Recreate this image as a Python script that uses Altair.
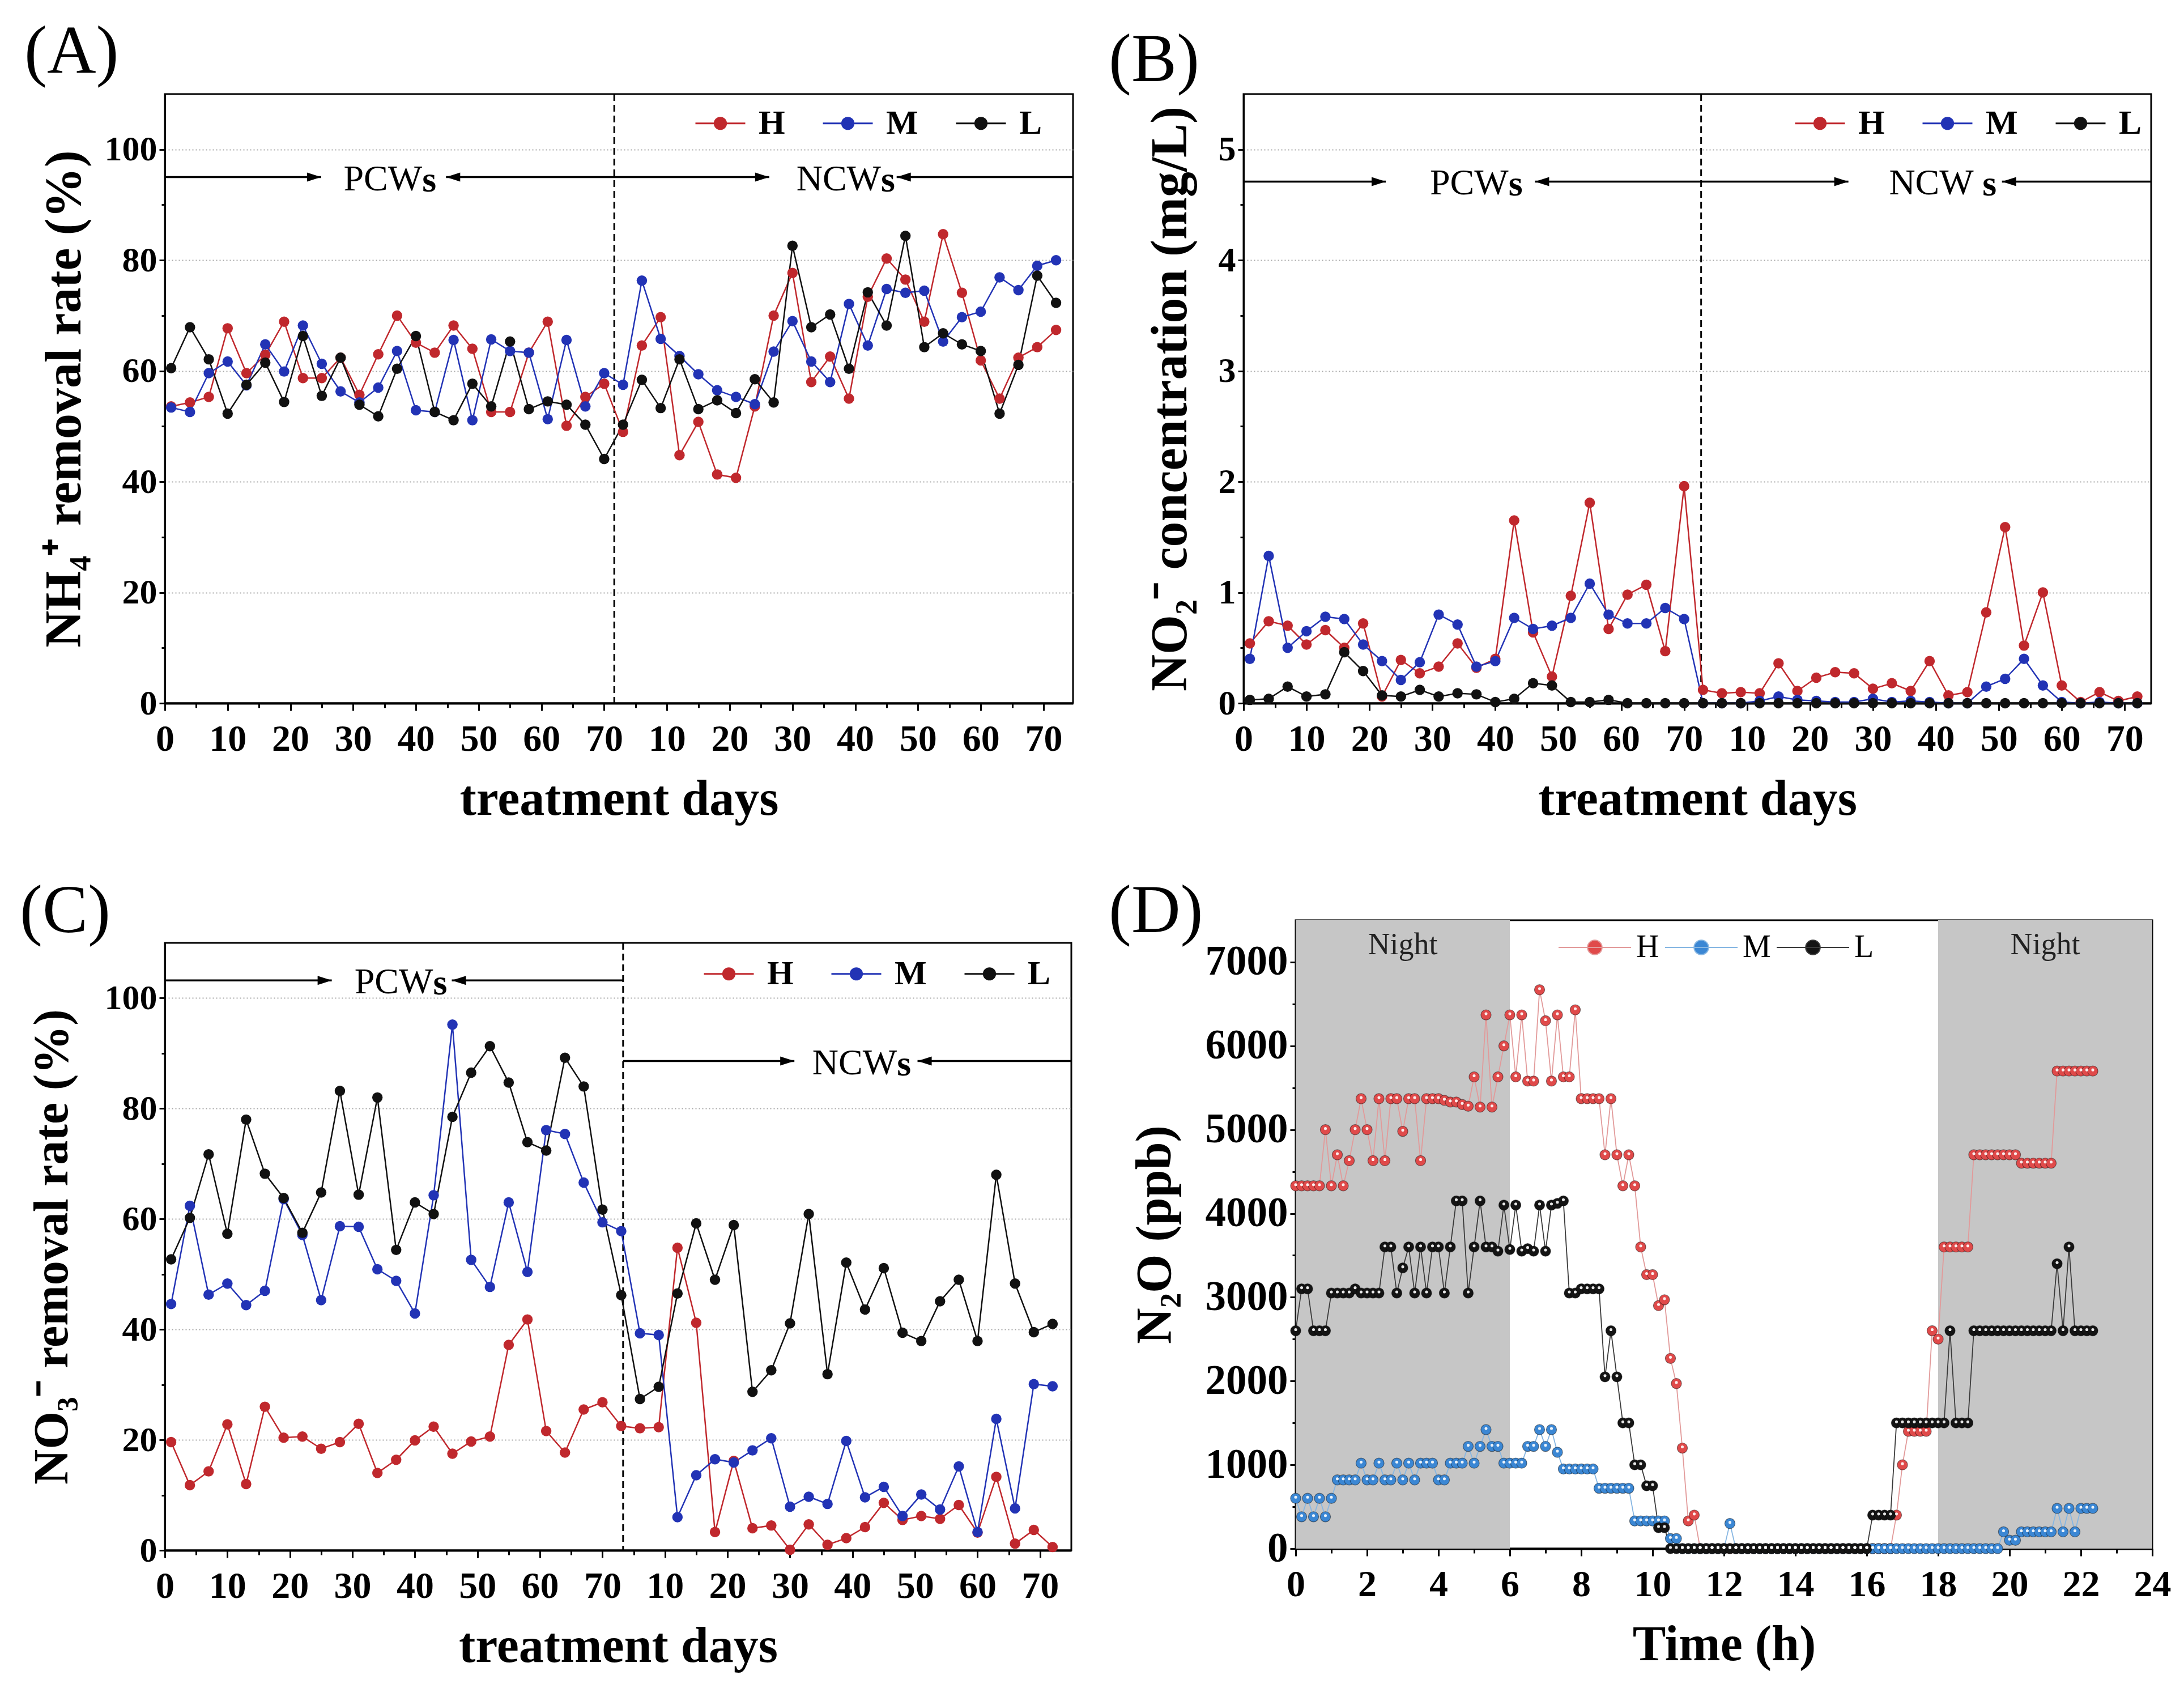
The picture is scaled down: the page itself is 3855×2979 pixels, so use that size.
import altair as alt
import pandas as pd

FONT = "Liberation Serif"
SERIES = ["H", "M", "L"]
COL_ABC = ["#C0282D", "#2233B5", "#111111"]
COL_D_FILL = ["#E04A4A", "#3B87D4", "#141414"]
COL_D_LINE = ["#E29A9A", "#86B6E2", "#3A3A3A"]
NIGHT_GRAY = "#C6C6C6"

# ---------------- panels A-C : sampling days (second period drawn after the first) ----
DAY_X = [1, 4, 7, 10, 13, 16, 19, 22, 25, 28, 31, 34, 37, 40, 43, 46, 49, 52, 55, 58, 61, 64, 67, 70,
         73, 76, 79, 82, 85, 88, 91, 94, 97, 100, 103, 106, 109, 112, 115, 118, 121, 124, 127, 130, 133, 136, 139, 142]
DAY_TICKS = [0, 10, 20, 30, 40, 50, 60, 70, 80, 90, 100, 110, 120, 130, 140]
DAY_MINOR = [5, 15, 25, 35, 45, 55, 65, 75, 85, 95, 105, 115, 125, 135]

# (A) NH4+ removal rate (%)
A_H = [53.6, 54.3, 55.3, 67.7, 59.6, 62.9, 68.9, 58.7, 58.7, 62.4, 55.7, 63.0, 70.0, 65.1, 63.3, 68.2,
       64.0, 52.6, 52.6, 63.3, 68.9, 50.1, 55.3, 57.7,
       49.0, 64.6, 69.7, 44.8, 50.8, 41.3, 40.7, 53.6, 70.0, 77.7, 58.0, 62.6, 55.0, 73.4, 80.3, 76.5,
       68.9, 84.7, 74.1, 61.9, 55.0, 62.4, 64.3, 67.4]
A_M = [53.4, 52.6, 59.6, 61.7, 57.4, 64.8, 59.9, 68.2, 61.3, 56.3, 54.3, 57.0, 63.6, 52.9, 52.6, 65.6,
       51.1, 65.7, 63.6, 63.3, 51.3, 65.6, 53.6, 59.6,
       57.5, 76.3, 65.8, 62.7, 59.4, 56.5, 55.3, 54.0, 63.5, 69.0, 61.7, 58.0, 72.1, 64.6, 74.8, 74.1,
       74.5, 65.3, 69.7, 70.7, 76.9, 74.6, 79.0, 80.0]
A_L = [60.5, 67.9, 62.1, 52.3, 57.5, 61.5, 54.4, 66.3, 55.5, 62.4, 53.9, 51.8, 60.4, 66.3, 52.6, 51.1,
       57.7, 53.6, 65.3, 53.1, 54.5, 53.9, 50.3, 44.1,
       50.3, 58.4, 53.3, 62.1, 53.1, 54.7, 52.4, 58.5, 54.3, 82.6, 67.9, 70.2, 60.4, 74.2, 68.2, 84.4,
       64.3, 66.8, 64.8, 63.6, 52.3, 61.1, 77.2, 72.3]

# (B) NO2- concentration (mg/L)
B_H = [0.54, 0.74, 0.70, 0.53, 0.66, 0.50, 0.72, 0.06, 0.39, 0.27, 0.33, 0.54, 0.32, 0.40, 1.65, 0.64,
       0.24, 0.97, 1.81, 0.67, 0.98, 1.07, 0.47, 1.96,
       0.12, 0.09, 0.10, 0.09, 0.36, 0.11, 0.23, 0.28, 0.27, 0.13, 0.18, 0.11, 0.38, 0.07, 0.10, 0.82,
       1.59, 0.52, 1.00, 0.16, 0.01, 0.10, 0.02, 0.06]
B_M = [0.40, 1.33, 0.50, 0.65, 0.78, 0.76, 0.53, 0.38, 0.21, 0.37, 0.80, 0.71, 0.33, 0.38, 0.77, 0.67,
       0.70, 0.77, 1.08, 0.80, 0.72, 0.72, 0.86, 0.76,
       0.00, 0.00, 0.00, 0.02, 0.06, 0.03, 0.02, 0.01, 0.01, 0.04, 0.01, 0.02, 0.01, 0.00, 0.00, 0.15,
       0.22, 0.40, 0.16, 0.01, 0.00, 0.01, 0.00, 0.00]
B_L = [0.03, 0.04, 0.15, 0.06, 0.08, 0.46, 0.29, 0.07, 0.06, 0.12, 0.06, 0.09, 0.08, 0.01, 0.04, 0.18,
       0.16, 0.01, 0.01, 0.03, 0.00, 0.00, 0.00, 0.00,
       0.00, 0.00, 0.00, 0.00, 0.00, 0.00, 0.00, 0.00, 0.00, 0.00, 0.00, 0.00, 0.00, 0.00, 0.00, 0.00,
       0.00, 0.00, 0.00, 0.00, 0.00, 0.00, 0.00, 0.00]

# (C) NO3- removal rate (%)
C_H = [19.6, 11.8, 14.3, 22.8, 12.0, 26.0, 20.4, 20.6, 18.4, 19.6, 22.9, 14.0, 16.4, 19.9, 22.4, 17.5,
       19.7, 20.6, 37.2, 41.8, 21.6, 17.7, 25.5, 26.8,
       22.5, 22.1, 22.3, 54.8, 41.2, 3.3, 16.2, 4.0, 4.5, 0.1, 4.7, 1.0, 2.2, 4.2, 8.6, 5.5,
       6.2, 5.7, 8.2, 3.2, 13.3, 1.2, 3.7, 0.6]
C_M = [44.6, 62.4, 46.3, 48.3, 44.4, 47.0, 63.6, 57.1, 45.3, 58.7, 58.6, 50.9, 48.8, 42.9, 64.3, 95.2,
       52.6, 47.7, 63.0, 50.4, 76.1, 75.4, 66.6, 59.4,
       57.8, 39.3, 39.0, 6.0, 13.6, 16.5, 15.9, 18.1, 20.3, 7.9, 9.7, 8.4, 19.8, 9.6, 11.5, 6.2,
       10.1, 7.4, 15.2, 3.3, 23.8, 7.6, 30.1, 29.7]
C_L = [52.7, 60.2, 71.7, 57.3, 78.0, 68.2, 63.8, 57.5, 64.8, 83.2, 64.4, 82.0, 54.4, 63.0, 60.9, 78.5,
       86.5, 91.3, 84.7, 73.9, 72.4, 89.2, 84.0, 61.7,
       46.2, 27.4, 29.6, 46.5, 59.2, 49.0, 58.9, 28.7, 32.6, 41.1, 60.9, 31.9, 52.1, 43.6, 51.1, 39.4,
       37.9, 45.1, 49.0, 37.9, 68.0, 48.3, 39.5, 41.0]

# ---------------- panel D : N2O (ppb) over 24 h --------------------------------------
TIME_MIN = [0, 10, 20, 30, 40, 50, 60, 70, 80, 90, 100, 110, 120, 130, 140, 150, 160, 170,
            180, 190, 200, 210, 220, 230, 240, 250, 260, 270, 280, 290, 300, 310, 320, 330, 340, 350,
            360, 370, 380, 390, 400, 410, 420, 430, 440, 450, 460, 470, 480, 490, 500, 510, 520, 530,
            540, 550, 560, 570, 580, 590, 600, 610, 620, 630, 640, 650, 660, 670, 680, 690, 700, 710,
            720, 730, 740, 750, 760, 770, 780, 790, 800, 810, 820, 830, 840, 850, 860, 870, 880, 890,
            900, 910, 920, 930, 940, 950, 960, 970, 980, 990, 1000, 1010, 1020, 1030, 1040, 1050, 1060, 1070,
            1080, 1090, 1100, 1110, 1120, 1130, 1140, 1150, 1160, 1170, 1180, 1190, 1200, 1210, 1220, 1230, 1240, 1250,
            1260, 1270, 1280, 1290, 1300, 1310, 1320, 1330, 1340]
D_H = [4330, 4330, 4330, 4330, 4330, 5000, 4330, 4700, 4330, 4630, 5000, 5370,
       5000, 4630, 5370, 4630, 5370, 5370, 4980, 5370, 5370, 4630, 5370, 5370,
       5370, 5350, 5330, 5330, 5300, 5280, 5630, 5270, 6370, 5270, 5630, 6000,
       6370, 5630, 6370, 5580, 5580, 6670, 6300, 5580, 6370, 5630, 5630, 6430,
       5370, 5370, 5370, 5370, 4700, 5370, 4700, 4330, 4700, 4330, 3600, 3270,
       3270, 2900, 2970, 2270, 1970, 1200, 330, 400, 0, 0, 0, 0,
       0, 0, 0, 0, 0, 0, 0, 0, 0, 0, 0, 0,
       0, 0, 0, 0, 0, 0, 0, 0, 0, 0, 0, 0,
       0, 0, 0, 0, 0, 400, 1000, 1400, 1400, 1400, 1400, 2600,
       2500, 3600, 3600, 3600, 3600, 3600, 4700, 4700, 4700, 4700, 4700, 4700,
       4700, 4700, 4600, 4600, 4600, 4600, 4600, 4600, 5700, 5700, 5700, 5700,
       5700, 5700, 5700]
D_M = [600, 380, 600, 380, 600, 380, 600, 820, 820, 820, 820, 1020,
       820, 820, 1020, 820, 820, 1020, 820, 1020, 820, 1020, 1020, 1020,
       820, 820, 1020, 1020, 1020, 1220, 1020, 1220, 1420, 1220, 1220, 1020,
       1020, 1020, 1020, 1220, 1220, 1420, 1220, 1420, 1150, 950, 950, 950,
       950, 950, 950, 720, 720, 720, 720, 720, 720, 330, 330, 330,
       330, 330, 330, 120, 120, 0, 0, 0, 0, 0, 0, 0,
       0, 300, 0, 0, 0, 0, 0, 0, 0, 0, 0, 0,
       0, 0, 0, 0, 0, 0, 0, 0, 0, 0, 0, 0,
       0, 0, 0, 0, 0, 0, 0, 0, 0, 0, 0, 0,
       0, 0, 0, 0, 0, 0, 0, 0, 0, 0, 0, 200,
       100, 100, 200, 200, 200, 200, 200, 200, 480, 200, 480, 200,
       480, 480, 480]
D_L = [2600, 3100, 3100, 2600, 2600, 2600, 3050, 3050, 3050, 3050, 3100, 3050,
       3050, 3050, 3050, 3600, 3600, 3050, 3350, 3600, 3050, 3600, 3050, 3600,
       3600, 3050, 3600, 4150, 4150, 3050, 3600, 4150, 3600, 3600, 3550, 4100,
       3570, 4100, 3550, 3580, 3550, 4100, 3550, 4100, 4120, 4150, 3050, 3050,
       3100, 3100, 3100, 3100, 2050, 2600, 2050, 1500, 1500, 1000, 1000, 750,
       750, 250, 250, 0, 0, 0, 0, 0, 0, 0, 0, 0,
       0, 0, 0, 0, 0, 0, 0, 0, 0, 0, 0, 0,
       0, 0, 0, 0, 0, 0, 0, 0, 0, 0, 0, 0,
       0, 400, 400, 400, 400, 1500, 1500, 1500, 1500, 1500, 1500, 1500,
       1500, 1500, 2600, 1500, 1500, 1500, 2600, 2600, 2600, 2600, 2600, 2600,
       2600, 2600, 2600, 2600, 2600, 2600, 2600, 2600, 3400, 2600, 3600, 2600,
       2600, 2600, 2600]
HOUR_TICKS = [0, 2, 4, 6, 8, 10, 12, 14, 16, 18, 20, 22, 24]
HOUR_MINOR = [1, 3, 5, 7, 9, 11, 13, 15, 17, 19, 21, 23]
NIGHT_START = [0, 18]
NIGHT_END = [6, 24]
NIGHT_MID = [3, 21]

# ---------------- annotation texts (phase arrows) ----------------------------------
A_ARROW = dict(x=[0, 44.8, 116.6], x2=[24.9, 96.3, 144.7], y=[95, 95, 95])
A_HEAD_R = dict(x=[24.9, 96.3], y=[95, 95])
A_HEAD_L = dict(x=[44.8, 116.6], y=[95, 95])
A_WORD = dict(x=[41.0, 114.1], y=[95, 95], t=["PCW", "NCW"])
A_SUF = dict(x=[41.0, 114.1], y=[95, 95], t=["s", "s"])

B_ARROW = dict(x=[0, 46.3, 120.5], x2=[22.6, 96.1, 144.2], y=[4.71, 4.71, 4.71])
B_HEAD_R = dict(x=[22.6, 96.1], y=[4.71, 4.71])
B_HEAD_L = dict(x=[46.3, 120.5], y=[4.71, 4.71])
B_WORD = dict(x=[42.1, 116.0], y=[4.71, 4.71], t=["PCW", "NCW"])
B_SUF = dict(x=[42.1, 117.4], y=[4.71, 4.71], t=["s", "s"])

C_ARROW = dict(x=[0, 45.9, 73.3, 120.4], x2=[26.7, 73.3, 100.7, 145.0], y=[103.2, 103.2, 88.6, 88.6])
C_HEAD_R = dict(x=[26.7, 100.7], y=[103.2, 88.6])
C_HEAD_L = dict(x=[45.9, 120.4], y=[103.2, 88.6])
C_WORD = dict(x=[42.9, 117.1], y=[103.2, 88.6], t=["PCW", "NCW"])
C_SUF = dict(x=[42.9, 117.1], y=[103.2, 88.6], t=["s", "s"])

LEG_PATH = "M-1,0L1,0M0.23,0A0.23,0.23,0,1,1,-0.23,0A0.23,0.23,0,1,1,0.23,0Z"
LEG_PATH_D = "M-1,0L1,0M0.2,0A0.2,0.2,0,1,1,-0.2,0A0.2,0.2,0,1,1,0.2,0Z"
HEAD_R = "M0,0L-1,-0.32L-1,0.32Z"
HEAD_L = "M0,0L1,-0.32L1,0.32Z"


def long_df(xs, h, m, l):
    return pd.DataFrame({
        "x": list(xs) * 3,
        "v": list(h) + list(m) + list(l),
        "s": ["H"] * len(h) + ["M"] * len(m) + ["L"] * len(l),
    })


def minor_axis(values, orient, size):
    return alt.Axis(values=values, labels=False, domain=False, grid=False, title=None,
                    orient=orient, tickSize=size, tickWidth=3, tickColor="black")


def letter_title(text, dx, offset):
    return alt.TitleParams(text, anchor="start", frame="group", dx=dx, offset=offset, fontSize=120,
                           font=FONT, fontWeight="normal", baseline="alphabetic", color="black")


def day_panel(df, arrow, head_r, head_l, word, suf, p):
    xs = alt.Scale(domain=[0, p["xmax"]], nice=False, zero=False)
    ys = alt.Scale(domain=[0, p["ymax"]], nice=False, zero=False)
    cs = alt.Scale(domain=SERIES, range=COL_ABC)
    leg = alt.Legend(orient="none", legendX=p["legx"], legendY=p["legy"], direction="horizontal",
                     title=None, symbolType=LEG_PATH, symbolSize=88 * 88, symbolStrokeWidth=3,
                     labelFont=FONT, labelFontSize=60, labelFontWeight="bold", labelColor="black",
                     labelOffset=22, columnPadding=60)
    x_main = alt.Axis(values=DAY_TICKS, labelExpr="datum.value > 70 ? datum.value - 70 : datum.value",
                      title="treatment days", orient="bottom", tickSize=13, tickWidth=3,
                      domainWidth=4, labelFontSize=66, labelPadding=18, titleFontSize=88,
                      titlePadding=30, labelFlush=False, labelOverlap=False, grid=False,
                      labelFont=FONT, labelFontWeight="bold", titleFont=FONT, titleFontWeight="bold")
    y_main = alt.Axis(values=p["yticks"], title=p["ytitle"], orient="left", tickSize=10, tickWidth=3,
                      domainWidth=3, labelFontSize=62, labelPadding=4, titleFontSize=p["ytsize"],
                      titlePadding=p["ytpad"], grid=True, gridColor="#A8A8A8", gridDash=[2, 4],
                      gridWidth=2, labelFlush=False, labelOverlap=False,
                      labelFont=FONT, labelFontWeight="bold", titleFont=FONT, titleFontWeight="bold")

    base = alt.Chart(df)
    divider = alt.Chart(pd.DataFrame({"x": [p["div"]]})).mark_rule(
        color="black", strokeWidth=3, strokeDash=[12, 7]).encode(
        x=alt.X("x:Q", scale=xs, axis=None))
    arrows = alt.Chart(pd.DataFrame(arrow)).mark_rule(color="black", strokeWidth=3.5).encode(
        x=alt.X("x:Q", scale=xs, axis=None), x2="x2:Q", y=alt.Y("y:Q", scale=ys, axis=None))
    hr = alt.Chart(pd.DataFrame(head_r)).mark_point(shape=HEAD_R, filled=True, color="black",
                                                    size=2500, opacity=1).encode(
        x=alt.X("x:Q", scale=xs, axis=None), y=alt.Y("y:Q", scale=ys, axis=None))
    hl = alt.Chart(pd.DataFrame(head_l)).mark_point(shape=HEAD_L, filled=True, color="black",
                                                    size=2500, opacity=1).encode(
        x=alt.X("x:Q", scale=xs, axis=None), y=alt.Y("y:Q", scale=ys, axis=None))
    words = alt.Chart(pd.DataFrame(word)).mark_text(font=FONT, fontSize=64, align="right",
                                                     baseline="alphabetic", dy=23, color="black").encode(
        x=alt.X("x:Q", scale=xs, axis=None), y=alt.Y("y:Q", scale=ys, axis=None), text="t:N")
    sufs = alt.Chart(pd.DataFrame(suf)).mark_text(font=FONT, fontSize=64, fontWeight="bold",
                                                   align="left", baseline="alphabetic", dy=25,
                                                   color="black").encode(
        x=alt.X("x:Q", scale=xs, axis=None), y=alt.Y("y:Q", scale=ys, axis=None), text="t:N")
    lines = base.mark_line(strokeWidth=2.5).encode(
        x=alt.X("x:Q", scale=xs, axis=x_main), y=alt.Y("v:Q", scale=ys, axis=y_main),
        color=alt.Color("s:N", scale=cs, legend=leg, sort=SERIES))
    points = base.mark_point(filled=True, size=340, opacity=1).encode(
        x=alt.X("x:Q", scale=xs, axis=None), y=alt.Y("v:Q", scale=ys, axis=None),
        color=alt.Color("s:N", scale=cs, legend=leg, sort=SERIES))
    minor = base.mark_point(opacity=0).encode(
        x=alt.X("x:Q", scale=xs, axis=minor_axis(DAY_MINOR, "bottom", 8)),
        y=alt.Y("v:Q", scale=ys, axis=minor_axis(p["yminor"], "left", 6)))

    return alt.layer(divider, arrows, hr, hl, words, sufs, minor, lines, points).resolve_axis(
        x="independent", y="independent").properties(
        width=p["w"], height=p["h"], title=letter_title(p["letter"], p["ldx"], p["loff"]))


panel_a = day_panel(long_df(DAY_X, A_H, A_M, A_L), A_ARROW, A_HEAD_R, A_HEAD_L, A_WORD, A_SUF, dict(
    xmax=144.7, ymax=110, yticks=[0, 20, 40, 60, 80, 100], yminor=[10, 30, 50, 70, 90], div=71.6,
    ytitle="NH₄⁺ removal rate (%)", ytsize=90, ytpad=24, letter="(A)", ldx=-248, loff=-84,
    legx=935, legy=6, w=1603, h=1075))
panel_b = day_panel(long_df(DAY_X, B_H, B_M, B_L), B_ARROW, B_HEAD_R, B_HEAD_L, B_WORD, B_SUF, dict(
    xmax=144.2, ymax=5.5, yticks=[0, 1, 2, 3, 4, 5], yminor=[0.5, 1.5, 2.5, 3.5, 4.5], div=72.7,
    ytitle="NO₂⁻ concentration (mg/L)", ytsize=90, ytpad=38, letter="(B)", ldx=-238, loff=-98,
    legx=972, legy=6, w=1602, h=1075))
panel_c = day_panel(long_df(DAY_X, C_H, C_M, C_L), C_ARROW, C_HEAD_R, C_HEAD_L, C_WORD, C_SUF, dict(
    xmax=145.0, ymax=110, yticks=[0, 20, 40, 60, 80, 100], yminor=[10, 30, 50, 70, 90], div=73.3,
    ytitle="NO₃⁻ removal rate (%)", ytsize=86, ytpad=48, letter="(C)", ldx=-256, loff=-102,
    legx=950, legy=9, w=1600, h=1072))

# ---------------- panel D ----------------
dfd = long_df([m / 60 for m in TIME_MIN], D_H, D_M, D_L)
xs_d = alt.Scale(domain=[0, 24], nice=False, zero=False)
ys_d = alt.Scale(domain=[0, 7500], nice=False, zero=False)
leg_d = alt.Legend(orient="none", legendX=463, legendY=-17, direction="horizontal", title=None,
                   symbolType=LEG_PATH_D, symbolSize=128 * 128, symbolStrokeWidth=2,
                   labelFont=FONT, labelFontSize=56, labelFontWeight="normal", labelColor="black",
                   labelOffset=8, columnPadding=6)
x_main_d = alt.Axis(values=HOUR_TICKS, title="Time (h)", orient="bottom", tickSize=13, tickWidth=3,
                    domainWidth=4, labelFontSize=66, labelPadding=18, titleFontSize=88, titlePadding=30,
                    labelFlush=False, labelOverlap=False, grid=False,
                    labelFont=FONT, labelFontWeight="bold", titleFont=FONT, titleFontWeight="bold")
y_main_d = alt.Axis(values=[0, 1000, 2000, 3000, 4000, 5000, 6000, 7000], title="N₂O (ppb)", format="d",
                    orient="left", tickSize=10, tickWidth=3, domainWidth=3, labelFontSize=73,
                    labelPadding=4, titleFontSize=88, titlePadding=44, grid=False,
                    labelFlush=False, labelOverlap=False,
                    labelFont=FONT, labelFontWeight="bold", titleFont=FONT, titleFontWeight="bold")
night = alt.Chart(pd.DataFrame({"x": NIGHT_START, "x2": NIGHT_END})).mark_rect(
    color=NIGHT_GRAY, opacity=1).encode(x=alt.X("x:Q", scale=xs_d, axis=None), x2="x2:Q")
night_txt = alt.Chart(pd.DataFrame({"x": NIGHT_MID, "y": [7200, 7200], "t": ["Night", "Night"]})).mark_text(
    font=FONT, fontSize=54, baseline="middle", color="#222222").encode(
    x=alt.X("x:Q", scale=xs_d, axis=None), y=alt.Y("y:Q", scale=ys_d, axis=None), text="t:N")
lines_d = alt.Chart(dfd).mark_line(strokeWidth=1.8).encode(
    x=alt.X("x:Q", scale=xs_d, axis=x_main_d), y=alt.Y("v:Q", scale=ys_d, axis=y_main_d),
    stroke=alt.Stroke("s:N", scale=alt.Scale(domain=SERIES, range=COL_D_LINE), legend=leg_d, sort=SERIES))
points_d = alt.Chart(dfd).mark_point(filled=True, size=330, opacity=1, stroke="#000000",
                                     strokeWidth=1.2, strokeOpacity=0.45).encode(
    x=alt.X("x:Q", scale=xs_d, axis=None), y=alt.Y("v:Q", scale=ys_d, axis=None),
    fill=alt.Fill("s:N", scale=alt.Scale(domain=SERIES, range=COL_D_FILL), legend=leg_d, sort=SERIES))
shine_d = alt.Chart(dfd).mark_point(filled=True, size=26, opacity=0.9, color="white", yOffset=-2).encode(
    x=alt.X("x:Q", scale=xs_d, axis=None), y=alt.Y("v:Q", scale=ys_d, axis=None))
minor_d = alt.Chart(dfd).mark_point(opacity=0).encode(
    x=alt.X("x:Q", scale=xs_d, axis=minor_axis(HOUR_MINOR, "bottom", 8)),
    y=alt.Y("v:Q", scale=ys_d, axis=minor_axis([500, 1500, 2500, 3500, 4500, 5500, 6500], "left", 6)))
panel_d = alt.layer(night, night_txt, minor_d, lines_d, points_d, shine_d).resolve_axis(
    x="independent", y="independent").properties(
    width=1512, height=1109, title=letter_title("(D)", -330, -158))

chart = alt.concat(panel_a, panel_b, panel_c, panel_d, columns=2, spacing={"row": 90, "column": 57},
                   align="none", bounds="full", background="white",
                   padding={"left": 25, "top": 23, "right": 5, "bottom": 5}).resolve_scale(
    color="independent", fill="independent", stroke="independent").resolve_legend(
    color="independent", fill="independent", stroke="independent").configure_view(
    stroke="black", strokeWidth=3).configure_axis(
    labelFont=FONT, labelFontWeight="bold", labelColor="black", titleFont=FONT,
    titleFontWeight="bold", titleColor="black", domainColor="black", tickColor="black")

chart.save("out.html", embed_options={"renderer": "svg", "actions": False})
